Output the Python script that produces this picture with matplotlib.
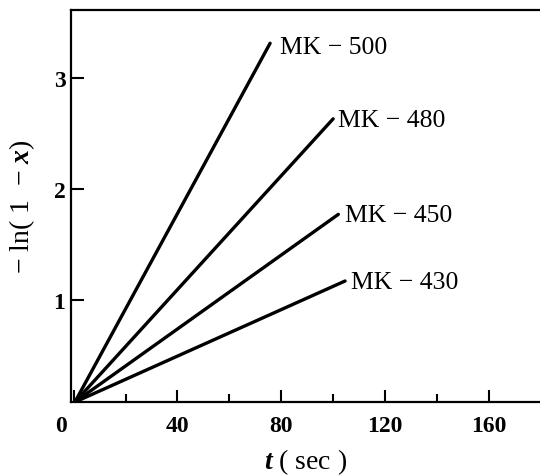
import matplotlib
matplotlib.use('Agg')
import matplotlib.pyplot as plt
from matplotlib.transforms import ScaledTranslation

# Dados
grades = ['MK − 500', 'MK − 480', 'MK − 450', 'MK − 430']
t_start = [0.5, 0.5, 0.5, 0.5]
y_start = [0.08, 0.08, 0.08, 0.08]
t_end = [75.7, 100.0, 102.0, 104.6]
y_end = [3.31, 2.63, 1.77, 1.17]
label_pos = [(79.5, 3.28), (102, 2.62), (104.5, 1.76), (107, 1.16)]

x_major = [0, 40, 80, 120, 160]
x_minor = [20, 60, 100, 140]
y_major = [1, 2, 3]

plt.rcParams['font.family'] = 'Liberation Serif'
plt.rcParams['font.weight'] = 'bold'
plt.rcParams['mathtext.fontset'] = 'custom'
plt.rcParams['mathtext.it'] = 'Liberation Serif:italic:bold'
plt.rcParams['mathtext.rm'] = 'Liberation Serif:bold'

fig = plt.figure(figsize=(5.4, 4.77), dpi=100)
ax = fig.add_axes([0.1315, 0.155, 0.8685, 0.822])

for i in range(len(grades)):
    ax.plot([t_start[i], t_end[i]], [y_start[i], y_end[i]], color='black',
            lw=2.4, solid_capstyle='round')
    ax.text(label_pos[i][0], label_pos[i][1], grades[i], fontsize=18.5,
            fontweight='normal', ha='left', va='center')

ax.set_xlim(-1, 179.7)
ax.set_ylim(0.08, 3.61)
ax.set_xticks(x_major)
ax.set_xticks(x_minor, minor=True)
ax.set_yticks(y_major)
ax.tick_params(which='both', direction='in', width=1.5, labelsize=17)
ax.tick_params(which='major', length=9, pad=9)
ax.tick_params(which='minor', length=6)
ax.tick_params(axis='y', pad=4)
ax.spines['right'].set_visible(False)
for s in ['left', 'bottom', 'top']:
    ax.spines[s].set_linewidth(1.6)

# o "0" fica um pouco à esquerda no original
lbl0 = ax.get_xticklabels()[0]
lbl0.set_transform(lbl0.get_transform() + ScaledTranslation(-0.13, 0, fig.dpi_scale_trans))

ax.set_xlabel('$t$ ( sec )', fontsize=20, labelpad=8)
ax.set_ylabel('− ln( 1  − $x$)', fontsize=20, labelpad=12)

fig.savefig('out.png', dpi=100)
